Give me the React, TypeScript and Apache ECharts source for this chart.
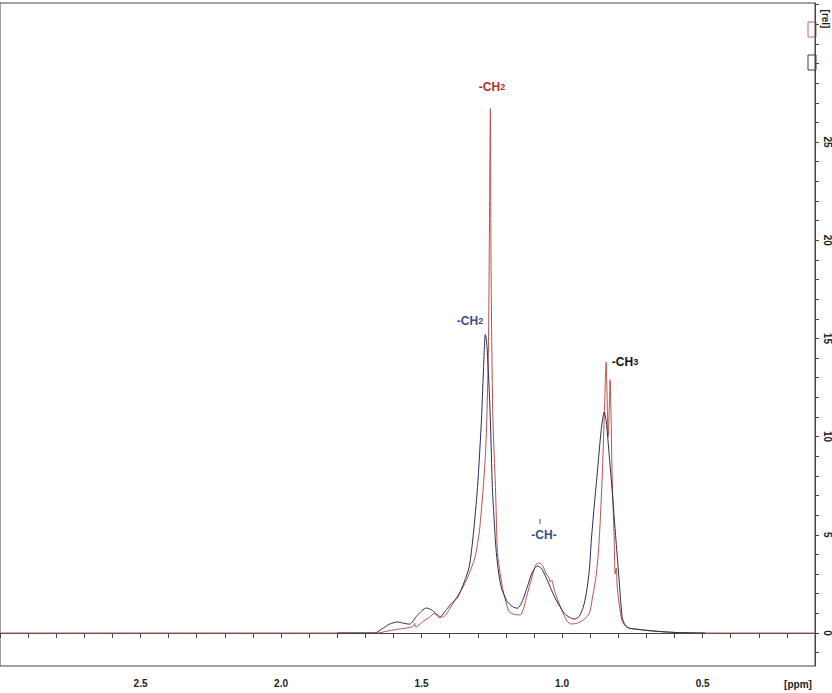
import React, { useEffect, useRef } from "react";
import * as echarts from "echarts";

// Trace 1 (dark navy) – chemical shift [ppm] and intensity [rel]
const blackPpm = [1.799, 1.667, 1.642, 1.614, 1.586, 1.564, 1.543, 1.515, 1.483, 1.461, 1.436, 1.411, 1.394, 1.372, 1.348, 1.33, 1.316, 1.301, 1.287, 1.28, 1.273, 1.269, 1.266, 1.26, 1.255, 1.248, 1.241, 1.234, 1.225, 1.216, 1.205, 1.195, 1.177, 1.159, 1.145, 1.127, 1.106, 1.088, 1.074, 1.056, 1.038, 1.021, 0.992, 0.974, 0.957, 0.939, 0.925, 0.914, 0.903, 0.896, 0.886, 0.875, 0.861, 0.85, 0.843, 0.832, 0.822, 0.814, 0.807, 0.797, 0.786, 0.775, 0.761, 0.726, 0.69, 0.637, 0.583, 0.491];
const blackRel = [0, 0, 0.2, 0.45, 0.56, 0.5, 0.45, 0.9, 1.27, 1.15, 0.8, 1.2, 1.5, 1.8, 2.6, 3.4, 5.0, 7.4, 10.8, 13.3, 15.2, 14.9, 14.3, 12.6, 10.8, 7.4, 5.6, 4.1, 3.0, 2.3, 1.9, 1.6, 1.35, 1.26, 1.5, 2.2, 3.1, 3.41, 3.3, 2.8, 2.2, 1.68, 1.0, 0.8, 0.71, 0.85, 1.3, 2.0, 3.2, 4.7, 6.4, 8.1, 10.3, 11.25, 10.8, 9.0, 7.3, 5.8, 4.5, 2.7, 0.8, 0.4, 0.25, 0.18, 0.12, 0.06, 0.02, 0];

// Trace 2 (red)
const redPpm = [3.0, 1.66, 1.614, 1.579, 1.543, 1.529, 1.525, 1.52, 1.497, 1.472, 1.454, 1.444, 1.429, 1.415, 1.401, 1.376, 1.358, 1.34, 1.323, 1.309, 1.294, 1.28, 1.273, 1.268, 1.262, 1.259, 1.255, 1.253, 1.25, 1.246, 1.237, 1.23, 1.223, 1.212, 1.2, 1.188, 1.17, 1.149, 1.138, 1.127, 1.106, 1.092, 1.081, 1.07, 1.056, 1.046, 1.042, 1.037, 1.031, 1.021, 0.999, 0.982, 0.967, 0.946, 0.921, 0.903, 0.893, 0.878, 0.868, 0.857, 0.85, 0.843, 0.839, 0.836, 0.832, 0.829, 0.825, 0.822, 0.815, 0.811, 0.807, 0.804, 0.797, 0.786, 0.768, 0.726, 0.69, 0.637, 0.583, 0.491, 0.1];
const redRel = [0, 0, 0.12, 0.2, 0.28, 0.35, 0.5, 0.3, 0.56, 0.8, 1.0, 0.95, 0.8, 0.9, 1.2, 1.8, 2.2, 2.7, 3.3, 3.9, 5.2, 7.5, 9.0, 10.8, 14.6, 19.5, 26.7, 19.5, 14.6, 10.8, 7.4, 4.1, 3.3, 2.3, 1.6, 1.07, 0.95, 0.92, 1.2, 1.8, 2.9, 3.5, 3.56, 3.45, 3.0, 2.8, 2.6, 2.7, 2.4, 1.9, 1.1, 0.6, 0.46, 0.5, 0.7, 1.0, 1.7, 3.0, 4.7, 8.0, 11.0, 13.8, 11.5, 10.0, 11.5, 12.9, 10.5, 8.0, 5.0, 3.0, 3.3, 2.4, 1.5, 0.6, 0.28, 0.18, 0.12, 0.06, 0.02, 0, 0];

const xTicks = [0.1, 0.2, 0.3, 0.4, 0.5, 0.6, 0.7, 0.8, 0.9, 1.0, 1.1, 1.2, 1.3, 1.4, 1.5, 1.6, 1.7, 1.8, 1.9, 2.0, 2.1, 2.2, 2.3, 2.4, 2.5, 2.6, 2.7, 2.8, 2.9, 3.0];
const xLabels = [0.5, 1.0, 1.5, 2.0, 2.5];
const yTicks = [-1, 0, 1, 2, 3, 4, 5, 6, 7, 8, 9, 10, 11, 12, 13, 14, 15, 16, 17, 18, 19, 20, 21, 22, 23, 24, 25, 26, 27, 28, 29, 30, 31, 32];
const yLabels = [0, 5, 10, 15, 20, 25];

const NAVY = "#2b2a55";
const RED = "#b5534d";
const FONT = "'Liberation Sans Narrow', 'Liberation Sans', Arial, sans-serif";

export default function App() {
  const ref = useRef<HTMLDivElement>(null);
  useEffect(() => {
    if (!ref.current) return;
    const chart = echarts.init(ref.current, null, { renderer: "svg" });
    const zip = (a: number[], b: number[]) => a.map((v, i) => [v, b[i]]);
    chart.setOption({
      animation: false,
      grid: { left: 0, right: 16, top: 3, bottom: 27, show: true, borderColor: "#444", borderWidth: 1 },
      xAxis: {
        type: "value",
        inverse: true,
        min: 0.1,
        max: 3.0,
        splitLine: { show: false },
        axisLine: { show: true, lineStyle: { color: "#444" } },
        axisTick: { show: true, length: 5, customValues: xTicks, lineStyle: { color: "#444" } },
        axisLabel: {
          customValues: xLabels,
          formatter: (v: number) => v.toFixed(1),
          margin: 12,
          color: "#222",
          fontSize: 10,
          fontWeight: "bold",
          fontFamily: FONT,
        },
      },
      yAxis: {
        type: "value",
        position: "right",
        min: -1.68,
        max: 32.08,
        splitLine: { show: false },
        axisLine: { show: true, lineStyle: { color: "#444" } },
        axisTick: { show: true, length: 4, customValues: yTicks, lineStyle: { color: "#444" } },
        axisLabel: {
          customValues: yLabels,
          formatter: (v: number) => String(v),
          rotate: -90,
          margin: 7,
          color: "#222",
          fontSize: 10,
          fontWeight: "bold",
          fontFamily: FONT,
        },
      },
      series: [
        {
          type: "line",
          data: zip(redPpm, redRel),
          showSymbol: false,
          smooth: 0.25,
          lineStyle: { color: RED, width: 1 },
          z: 2,
        },
        {
          type: "line",
          data: zip(blackPpm, blackRel),
          showSymbol: false,
          smooth: 0.25,
          lineStyle: { color: NAVY, width: 1 },
          z: 3,
        },
      ],
      graphic: [
        {
          type: "text",
          x: 492,
          y: 87,
          style: {
            text: "{a|-CH}{b|2}",
            align: "center",
            verticalAlign: "middle",
            rich: {
              a: { fontSize: 12, fontWeight: "bold", fill: "#a8322f", fontFamily: FONT },
              b: { fontSize: 9, fontWeight: "bold", fill: "#a8322f", fontFamily: FONT },
            },
          },
        },
        {
          type: "text",
          x: 470,
          y: 321,
          style: {
            text: "{a|-CH}{b|2}",
            align: "center",
            verticalAlign: "middle",
            rich: {
              a: { fontSize: 12, fontWeight: "bold", fill: "#3d4e8c", fontFamily: FONT },
              b: { fontSize: 9, fontWeight: "bold", fill: "#3d4e8c", fontFamily: FONT },
            },
          },
        },
        {
          type: "text",
          x: 544,
          y: 535,
          style: {
            text: "-CH-",
            align: "center",
            verticalAlign: "middle",
            fontSize: 12,
            fontWeight: "bold",
            fill: "#3d4e8c",
            fontFamily: FONT,
          },
        },
        {
          type: "line",
          shape: { x1: 540, y1: 519, x2: 540, y2: 524 },
          style: { stroke: "#3d4e8c", lineWidth: 1 },
        },
        {
          type: "text",
          x: 625,
          y: 362,
          style: {
            text: "{a|-CH}{b|3}",
            align: "center",
            verticalAlign: "middle",
            rich: {
              a: { fontSize: 12, fontWeight: "bold", fill: "#111", fontFamily: FONT },
              b: { fontSize: 9, fontWeight: "bold", fill: "#111", fontFamily: FONT },
            },
          },
        },
        {
          type: "rect",
          shape: { x: 808, y: 22, width: 8, height: 15 },
          style: { fill: "none", stroke: "#b06a5e", lineWidth: 1 },
        },
        {
          type: "rect",
          shape: { x: 808, y: 55, width: 8, height: 15 },
          style: { fill: "none", stroke: "#3a3d6a", lineWidth: 1 },
        },
        {
          type: "text",
          x: 825,
          y: 19,
          rotation: -Math.PI / 2,
          style: {
            text: "[rel]",
            align: "center",
            verticalAlign: "middle",
            fontSize: 10,
            fontWeight: "bold",
            fill: "#222",
            fontFamily: FONT,
          },
        },
        {
          type: "text",
          x: 798,
          y: 684,
          style: {
            text: "[ppm]",
            align: "center",
            verticalAlign: "middle",
            fontSize: 10,
            fontWeight: "bold",
            fill: "#222",
            fontFamily: FONT,
          },
        },
      ],
    });
    return () => chart.dispose();
  }, []);
  return (
    <div
      ref={ref}
      style={{ position: "fixed", left: 0, top: 0, width: 832, height: 693, background: "#fff" }}
    />
  );
}
